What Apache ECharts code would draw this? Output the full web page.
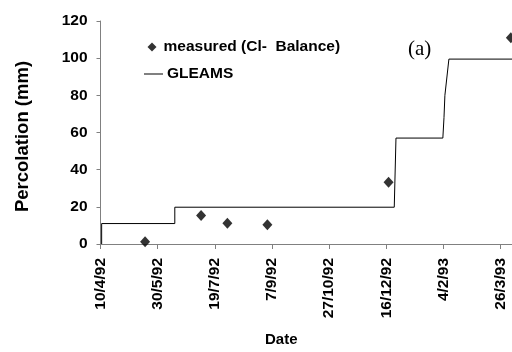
<!DOCTYPE html>
<html>
<head>
<meta charset="utf-8">
<script src="https://cdn.jsdelivr.net/npm/echarts@6/dist/echarts.min.js"></script>
<style>html,body{margin:0;padding:0;background:#fff;}#c{width:512px;height:352px;}</style>
</head>
<body>
<div id="c"></div>
<script>
// x values are days since 10/4/92
var tickLabels = ['10/4/92','30/5/92','19/7/92','7/9/92','27/10/92','16/12/92','4/2/93','26/3/93'];
var yTicks = [0, 20, 40, 60, 80, 100, 120];
var measuredDays = [39, 88, 111, 146, 252, 359];
var measuredValues = [1.2, 15.3, 11.1, 10.4, 33.2, 111];
var gleamsDays = [1, 1, 65, 65, 257, 258.5, 299.5, 300.5, 301.3, 304.8, 360];
var gleamsValues = [0, 11, 11, 19.8, 19.8, 57, 57, 68, 80, 99.5, 99.5];

var FONT = 'Liberation Sans, Arial, sans-serif';
var chart = echarts.init(document.getElementById('c'), null, {renderer: 'canvas'});
var option = {
  animation: false,
  backgroundColor: '#ffffff',
  grid: {left: 100.5, top: 21, width: 413.5, height: 229.3, containLabel: false},
  xAxis: {
    type: 'value', min: 0, max: 360, interval: 50,
    name: 'Date', nameLocation: 'middle', nameGap: 88,
    nameTextStyle: {fontFamily: FONT, fontWeight: 'bold', fontSize: 15, color: '#000', padding: [0, 50, 0, 0]},
    axisLine: {show: true, lineStyle: {color: '#808080', width: 1}},
    axisTick: {show: true, inside: false, length: 5, lineStyle: {color: '#808080'}},
    splitLine: {show: false},
    axisLabel: {
      rotate: 90, margin: 14, fontFamily: FONT, fontWeight: 'bold', fontSize: 15.5, color: '#000',
      showMaxLabel: false,
      formatter: function (v) { return (v % 50 === 0 && tickLabels[v / 50]) ? tickLabels[v / 50] : ''; }
    }
  },
  yAxis: {
    type: 'value', min: yTicks[0], max: yTicks[yTicks.length - 1], interval: 20,
    name: 'Percolation (mm)', nameLocation: 'middle', nameGap: 68, nameRotate: 90,
    nameTextStyle: {fontFamily: FONT, fontWeight: 'bold', fontSize: 18.5, color: '#000', padding: [0, 8, 0, 0]},
    axisLine: {show: true, lineStyle: {color: '#808080', width: 1}},
    axisTick: {show: true, inside: false, length: 4, lineStyle: {color: '#808080'}},
    splitLine: {show: false},
    axisLabel: {margin: 13, fontFamily: FONT, fontWeight: 'bold', fontSize: 15.5, color: '#000'}
  },
  legend: [
    {
      data: [{name: 'measured (Cl-  Balance)', icon: 'diamond'}],
      left: 142.5, top: 34, itemWidth: 9, itemHeight: 9, itemGap: 0,
      textStyle: {fontFamily: FONT, fontWeight: 'bold', fontSize: 15.5, color: '#000', padding: [0, 0, 0, 2]},
      selectedMode: false
    },
    {
      data: [{name: 'GLEAMS', icon: 'rect'}],
      left: 139, top: 61, itemWidth: 19, itemHeight: 1, itemGap: 0,
      textStyle: {fontFamily: FONT, fontWeight: 'bold', fontSize: 15.5, color: '#000', padding: [0, 0, 0, -1]},
      selectedMode: false
    }
  ],
  graphic: [
    {type: 'text', left: 408, top: 39, style: {text: '(a)', fontFamily: 'Liberation Serif, Times New Roman, serif', fontSize: 21, fill: '#000'}}
  ],
  series: [
    {
      name: 'measured (Cl-  Balance)', type: 'scatter', symbol: 'diamond', symbolSize: [10, 11],
      itemStyle: {color: '#000'}, clip: false,
      data: measuredDays.map(function (d, i) { return [d, measuredValues[i]]; })
    },
    {
      name: 'GLEAMS', type: 'line', symbol: 'none', showSymbol: false,
      lineStyle: {color: '#000', width: 1}, itemStyle: {color: '#000'},
      data: gleamsDays.map(function (d, i) { return [d, gleamsValues[i]]; })
    }
  ]
};
chart.setOption(option);
</script>
</body>
</html>
